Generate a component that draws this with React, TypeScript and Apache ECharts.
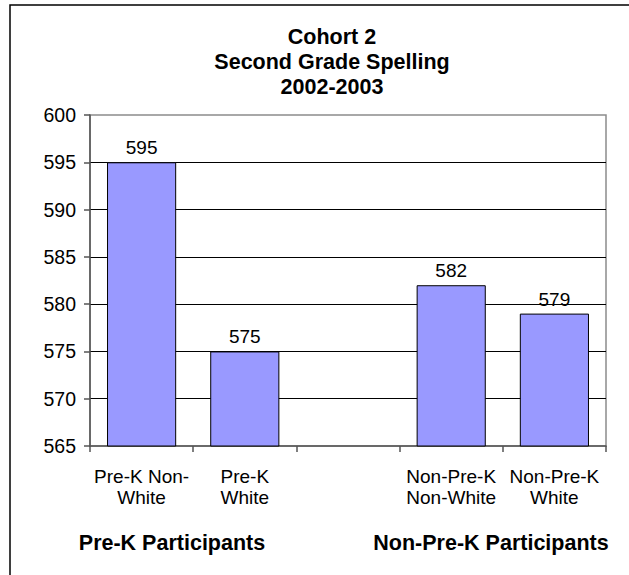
import React, { useEffect, useRef } from "react";
import * as echarts from "echarts";

// Spelling scores by group, second grade, 2002-2003
const categories = [
  "Pre-K Non-\nWhite",
  "Pre-K\nWhite",
  "",
  "Non-Pre-K\nNon-White",
  "Non-Pre-K\nWhite",
];
const scores: (number | null)[] = [595, 575, null, 582, 579];
const yTicks = { min: 565, max: 600, step: 5 };
const groupLabels = ["Pre-K Participants", "Non-Pre-K Participants"];

const FONT = "'Liberation Sans', Arial, sans-serif";

export default function App() {
  const ref = useRef<HTMLDivElement>(null);

  useEffect(() => {
    if (!ref.current) return;
    const chart = echarts.init(ref.current, undefined, { renderer: "svg" });
    chart.setOption({
      animation: false,
      backgroundColor: "#fff",
      title: {
        text: "Cohort 2\nSecond Grade Spelling\n2002-2003",
        left: 327,
        top: 19,
        textAlign: "center",
        textStyle: {
          fontFamily: FONT,
          fontSize: 21.5,
          fontWeight: "bold",
          lineHeight: 25,
          color: "#000",
        },
      },
      grid: {
        left: 90,
        right: 23,
        top: 115,
        bottom: 129,
        show: true,
        borderColor: "#8c8c8c",
        borderWidth: 1.5,
        backgroundColor: "transparent",
      },
      xAxis: {
        type: "category",
        data: categories,
        axisLine: { show: true, lineStyle: { color: "#555", width: 1.5 } },
        axisTick: {
          show: true,
          alignWithLabel: false,
          length: 6,
          interval: 0,
          lineStyle: { color: "#555", width: 1.5 },
        },
        axisLabel: {
          interval: 0,
          margin: 20,
          fontFamily: FONT,
          fontSize: 19,
          lineHeight: 21,
          color: "#000",
        },
        splitLine: { show: false },
      },
      yAxis: {
        type: "value",
        min: yTicks.min,
        max: yTicks.max,
        interval: yTicks.step,
        axisLine: { show: true, lineStyle: { color: "#555", width: 1.5 } },
        axisTick: { show: true, length: 6, lineStyle: { color: "#555", width: 1.5 } },
        axisLabel: {
          margin: 14,
          fontFamily: FONT,
          fontSize: 19.5,
          color: "#000",
        },
        splitLine: {
          show: true,
          showMinLine: false,
          showMaxLine: false,
          lineStyle: { color: "#000", width: 1 },
        },
      },
      series: [
        {
          type: "bar",
          data: scores,
          barCategoryGap: "33%",
          itemStyle: { color: "#9999ff", borderColor: "#000", borderWidth: 1 },
          label: {
            show: true,
            position: "top",
            distance: 5,
            fontFamily: FONT,
            fontSize: 19,
            color: "#000",
          },
        },
      ],
      graphic: [
        {
          type: "rect",
          shape: { x: 10, y: 5, width: 640, height: 600 },
          style: { fill: "none", stroke: "#000", lineWidth: 1.5 },
          silent: true,
        },
        {
          type: "text",
          x: 172,
          y: 543,
          style: {
            text: groupLabels[0],
            fontFamily: FONT,
            fontSize: 21.5,
            fontWeight: "bold",
            fill: "#000",
            textAlign: "center",
            textVerticalAlign: "middle",
          },
        },
        {
          type: "text",
          x: 491,
          y: 543,
          style: {
            text: groupLabels[1],
            fontFamily: FONT,
            fontSize: 21.5,
            fontWeight: "bold",
            fill: "#000",
            textAlign: "center",
            textVerticalAlign: "middle",
          },
        },
      ],
    });
    return () => chart.dispose();
  }, []);

  return (
    <div
      ref={ref}
      style={{ position: "fixed", left: 0, top: 0, width: 629, height: 575 }}
    />
  );
}
